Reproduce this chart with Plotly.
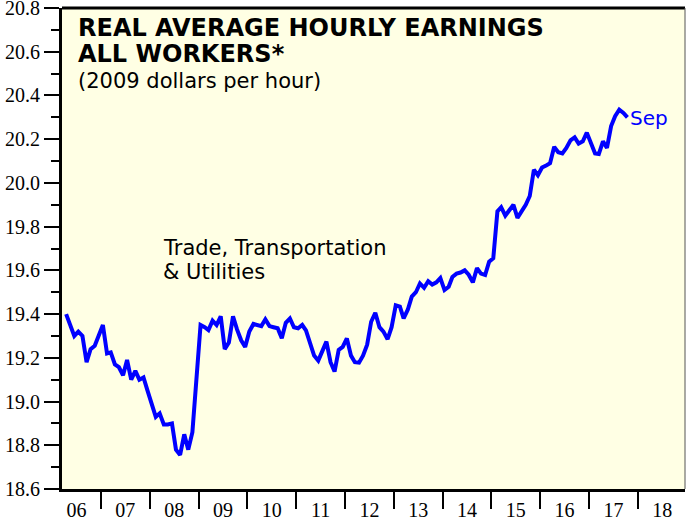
import pandas as pd
import plotly.graph_objects as go

# Monthly real average hourly earnings, Trade, Transportation & Utilities (2009 $/hr)
start_month = "2006-03-15"
earnings = [
    19.40, 19.35, 19.30, 19.32, 19.30, 19.18, 19.24, 19.255, 19.30, 19.35,
    19.22, 19.225, 19.17, 19.157, 19.12, 19.19, 19.10, 19.14, 19.10, 19.11,
    19.05, 18.99, 18.93, 18.946, 18.895, 18.895, 18.90, 18.78, 18.756, 18.85,
    18.78, 18.86, 19.12, 19.35, 19.34, 19.327, 19.37, 19.35, 19.39, 19.24,
    19.27, 19.39, 19.33, 19.28, 19.25, 19.32, 19.355, 19.35, 19.345, 19.376,
    19.345, 19.34, 19.335, 19.29, 19.36, 19.38, 19.34, 19.335, 19.35, 19.325,
    19.26, 19.21, 19.187, 19.225, 19.274, 19.18, 19.137, 19.236, 19.25, 19.289,
    19.21, 19.18, 19.178, 19.21, 19.26, 19.365, 19.406, 19.34, 19.32, 19.285,
    19.34, 19.44, 19.434, 19.38, 19.42, 19.48, 19.50, 19.54, 19.52, 19.55,
    19.535, 19.545, 19.565, 19.51, 19.525, 19.57, 19.585, 19.59, 19.60, 19.58,
    19.545, 19.61, 19.585, 19.579, 19.64, 19.655, 19.87, 19.889, 19.85, 19.875,
    19.90, 19.84, 19.87, 19.90, 19.94, 20.06, 20.035, 20.07, 20.08, 20.09,
    20.165, 20.14, 20.135, 20.16, 20.195, 20.208, 20.18, 20.19, 20.23, 20.18,
    20.135, 20.132, 20.19, 20.16, 20.26, 20.305, 20.335, 20.32, 20.30,
]
months = pd.date_range(start_month, periods=len(earnings), freq="MS") + pd.Timedelta(days=14)

years = list(range(2006, 2019))
year_labels = ["06", "07", "08", "09", "10", "11", "12", "13", "14", "15", "16", "17", "18"]
year_label_pos = [pd.Timestamp(year=y, month=7, day=2) for y in years]

y_tick_values = [18.6, 18.8, 19.0, 19.2, 19.4, 19.6, 19.8, 20.0, 20.2, 20.4, 20.6, 20.8]
y_tick_labels = ["18.6", "18.8", "19.0", "19.2", "19.4", "19.6", "19.8", "20.0", "20.2", "20.4", "20.6", "20.8"]

title_lines = ["REAL AVERAGE HOURLY EARNINGS", "ALL WORKERS*"]
subtitle = "(2009 dollars per hour)"
series_label = ["Trade, Transportation", "& Utilities"]
last_label = "Sep"

fig = go.Figure()
fig.add_trace(go.Scatter(
    x=months, y=earnings, mode="lines",
    line=dict(color="#0000FF", width=4),
    hoverinfo="skip", showlegend=False,
))

serif = "Liberation Serif"
sans = "DejaVu Sans"
tick_font = dict(family=serif, size=20, color="black")
fig.update_layout(
    width=686, height=523,
    margin=dict(l=62, r=1, t=8, b=34, autoexpand=False),
    paper_bgcolor="white",
    plot_bgcolor="#FFFFE4",
    xaxis=dict(
        type="date",
        range=["2006-03-15", "2018-12-20"],
        tickmode="array", tickvals=year_label_pos, ticktext=year_labels,
        ticks="",
        minor=dict(tickmode="linear", dtick="M12", tick0="2007-01-01", ticks="outside",
                   ticklen=17, tickwidth=2, tickcolor="black", showgrid=False),
        showline=True, linewidth=3, linecolor="black",
        showgrid=False, zeroline=False, automargin=False,
        tickfont=tick_font, ticklabeloverflow="allow",
        ticklabelstandoff=1,
    ),
    yaxis=dict(
        range=[18.6, 20.8],
        tickmode="array", tickvals=y_tick_values, ticktext=y_tick_labels,
        ticks="outside", ticklen=15, tickwidth=2, tickcolor="black",
        minor=dict(dtick=0.1, tick0=18.6, ticks="outside", ticklen=8, tickwidth=2, tickcolor="black"),
        showline=True, linewidth=3, linecolor="black",
        showgrid=False, zeroline=False, automargin=False,
        tickfont=tick_font, ticklabeloverflow="allow",
    ),
)

# top and right border
fig.add_shape(type="line", xref="paper", yref="paper", x0=0, x1=1, y0=1, y1=1,
              line=dict(color="black", width=3))
fig.add_shape(type="line", xref="paper", yref="paper", x0=1, x1=1, y0=0, y1=1,
              line=dict(color="#555555", width=1))

fig.add_annotation(xref="paper", yref="paper", x=0.0225, y=0.9575, xanchor="left", yanchor="middle",
                   text="<b>%s</b>" % title_lines[0], showarrow=False,
                   font=dict(family=sans, size=24, color="black"))
fig.add_annotation(xref="paper", yref="paper", x=0.0225, y=0.9035, xanchor="left", yanchor="middle",
                   text="<b>%s</b>" % title_lines[1], showarrow=False,
                   font=dict(family=sans, size=24, color="black"))
fig.add_annotation(xref="paper", yref="paper", x=0.0225, y=0.8482, xanchor="left", yanchor="middle",
                   text=subtitle, showarrow=False,
                   font=dict(family=sans, size=21, color="black"))
fig.add_annotation(xref="paper", yref="paper", x=0.159, y=0.501, xanchor="left", yanchor="middle",
                   text=series_label[0], showarrow=False,
                   font=dict(family=sans, size=21, color="black"))
fig.add_annotation(xref="paper", yref="paper", x=0.159, y=0.451, xanchor="left", yanchor="middle",
                   text=series_label[1], showarrow=False,
                   font=dict(family=sans, size=21, color="black"))
fig.add_annotation(xref="paper", yref="y", x=0.908, y=20.297, xanchor="left", yanchor="middle",
                   text=last_label, showarrow=False,
                   font=dict(family=sans, size=20, color="#0000FF"))

fig.write_html(
    "out.html",
    config={"displayModeBar": False},
    post_script="document.body.style.margin='0';document.body.style.padding='0';",
)
